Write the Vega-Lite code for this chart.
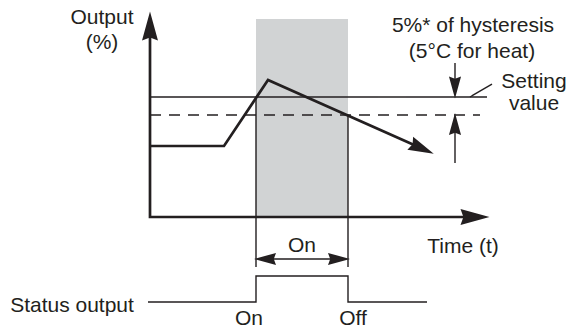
{
  "$schema": "https://vega.github.io/schema/vega-lite/v6.json",
  "width": 576,
  "height": 329,
  "autosize": {"type": "fit", "contains": "padding"},
  "padding": 0,
  "background": "white",
  "view": {"stroke": null},
  "config": {"font": "Liberation Sans"},
  "layer": [
    {
      "data": {"values": [{"t0": 256, "t1": 348, "v0": 19, "v1": 217}]},
      "mark": {"type": "rect", "fill": "#d1d3d4"},
      "encoding": {
        "x": {"field": "t0", "type": "quantitative", "scale": {"domain": [0, 576], "nice": false, "zero": false}, "axis": null},
        "x2": {"field": "t1"},
        "y": {"field": "v0", "type": "quantitative", "scale": {"domain": [0, 329], "nice": false, "zero": false, "reverse": true}, "axis": null},
        "y2": {"field": "v1"}
      }
    },
    {
      "data": {"values": [
        {"x": 150, "x2": 487, "y": 97, "y2": 97, "dash": "solid"},
        {"x": 150, "x2": 480, "y": 115, "y2": 115, "dash": "dashed"},
        {"x": 256, "x2": 256, "y": 97, "y2": 267, "dash": "solid"},
        {"x": 348, "x2": 348, "y": 115, "y2": 267, "dash": "solid"},
        {"x": 470, "x2": 492, "y": 97, "y2": 84, "dash": "solid"},
        {"x": 262, "x2": 342, "y": 259, "y2": 259, "dash": "solid"},
        {"x": 455, "x2": 455, "y": 63, "y2": 85, "dash": "solid"},
        {"x": 455, "x2": 455, "y": 128, "y2": 163, "dash": "solid"}
      ]},
      "mark": {"type": "rule", "color": "#231f20", "strokeWidth": 1.4},
      "encoding": {
        "x": {"field": "x", "type": "quantitative", "scale": {"domain": [0, 576], "nice": false, "zero": false}, "axis": null},
        "x2": {"field": "x2"},
        "y": {"field": "y", "type": "quantitative", "scale": {"domain": [0, 329], "nice": false, "zero": false, "reverse": true}, "axis": null},
        "y2": {"field": "y2"},
        "strokeDash": {"field": "dash", "type": "nominal", "scale": {"domain": ["solid", "dashed"], "range": [[1, 0], [11, 8]]}, "legend": null}
      }
    },
    {
      "data": {"values": [
        {"t": 148, "level": 302, "seq": 1},
        {"t": 256, "level": 302, "seq": 2},
        {"t": 256, "level": 276, "seq": 3},
        {"t": 348, "level": 276, "seq": 4},
        {"t": 348, "level": 302, "seq": 5},
        {"t": 427, "level": 302, "seq": 6}
      ]},
      "mark": {"type": "line", "color": "#231f20", "strokeWidth": 1.4, "strokeJoin": "miter"},
      "encoding": {
        "x": {"field": "t", "type": "quantitative", "scale": {"domain": [0, 576], "nice": false, "zero": false}, "axis": null},
        "y": {"field": "level", "type": "quantitative", "scale": {"domain": [0, 329], "nice": false, "zero": false, "reverse": true}, "axis": null},
        "order": {"field": "seq", "type": "quantitative"}
      }
    },
    {
      "data": {"values": [
        {"t": 150, "level": 36, "seq": 1},
        {"t": 150, "level": 217, "seq": 2},
        {"t": 470, "level": 217, "seq": 3}
      ]},
      "mark": {"type": "line", "color": "#231f20", "strokeWidth": 2.7, "strokeJoin": "miter"},
      "encoding": {
        "x": {"field": "t", "type": "quantitative", "scale": {"domain": [0, 576], "nice": false, "zero": false}, "axis": null},
        "y": {"field": "level", "type": "quantitative", "scale": {"domain": [0, 329], "nice": false, "zero": false, "reverse": true}, "axis": null},
        "order": {"field": "seq", "type": "quantitative"}
      }
    },
    {
      "data": {"values": [
        {"t": 150, "level": 146, "seq": 1},
        {"t": 224, "level": 146, "seq": 2},
        {"t": 268, "level": 80, "seq": 3},
        {"t": 422, "level": 148.5, "seq": 4}
      ]},
      "mark": {"type": "line", "color": "#231f20", "strokeWidth": 2.7, "strokeJoin": "miter"},
      "encoding": {
        "x": {"field": "t", "type": "quantitative", "scale": {"domain": [0, 576], "nice": false, "zero": false}, "axis": null},
        "y": {"field": "level", "type": "quantitative", "scale": {"domain": [0, 329], "nice": false, "zero": false, "reverse": true}, "axis": null},
        "order": {"field": "seq", "type": "quantitative"}
      }
    },
    {
      "data": {"values": [
        {"x": 150, "y": 26, "heading": 0, "kind": "axis"},
        {"x": 475, "y": 217, "heading": 90, "kind": "axis"},
        {"x": 422, "y": 148.5, "heading": 114, "kind": "trend"},
        {"x": 455, "y": 87.5, "heading": 180, "kind": "marker"},
        {"x": 455, "y": 124, "heading": 0, "kind": "marker"},
        {"x": 265, "y": 259, "heading": 270, "kind": "marker"},
        {"x": 339, "y": 259, "heading": 90, "kind": "marker"}
      ]},
      "mark": {"type": "point", "shape": "M0,-1L0.55,1L0,0.8L-0.55,1Z", "filled": true, "color": "#231f20", "opacity": 1, "strokeWidth": 0},
      "encoding": {
        "x": {"field": "x", "type": "quantitative", "scale": {"domain": [0, 576], "nice": false, "zero": false}, "axis": null},
        "y": {"field": "y", "type": "quantitative", "scale": {"domain": [0, 329], "nice": false, "zero": false, "reverse": true}, "axis": null},
        "angle": {"field": "heading", "type": "quantitative", "scale": {"domain": [0, 360], "range": [0, 360]}},
        "size": {"field": "kind", "type": "ordinal", "scale": {"domain": ["axis", "trend", "marker"], "range": [840, 484, 324]}, "legend": null}
      }
    },
    {
      "data": {"values": [
        {"label": "Output", "x": 102, "y": 24},
        {"label": "(%)", "x": 102, "y": 49},
        {"label": "5%* of hysteresis", "x": 473, "y": 32},
        {"label": "(5°C for heat)", "x": 472, "y": 58},
        {"label": "Setting", "x": 534, "y": 88},
        {"label": "value", "x": 534, "y": 110},
        {"label": "Time (t)", "x": 463, "y": 253},
        {"label": "On", "x": 302, "y": 252},
        {"label": "Status output", "x": 72, "y": 312},
        {"label": "On", "x": 249, "y": 325},
        {"label": "Off", "x": 353, "y": 325}
      ]},
      "mark": {"type": "text", "fontSize": 21, "color": "#231f20", "font": "Liberation Sans", "baseline": "alphabetic", "align": "center"},
      "encoding": {
        "x": {"field": "x", "type": "quantitative", "scale": {"domain": [0, 576], "nice": false, "zero": false}, "axis": null},
        "y": {"field": "y", "type": "quantitative", "scale": {"domain": [0, 329], "nice": false, "zero": false, "reverse": true}, "axis": null},
        "text": {"field": "label", "type": "nominal"}
      }
    }
  ]
}
